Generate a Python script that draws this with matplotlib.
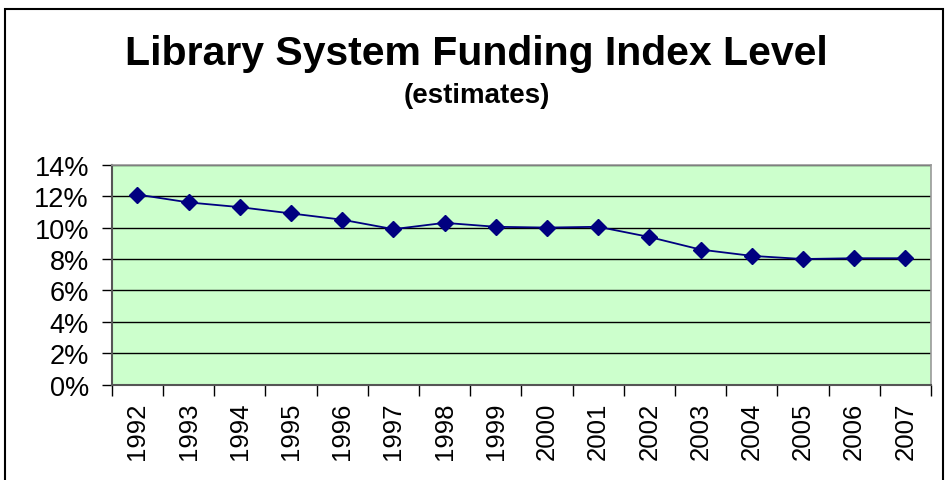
import numpy as np
import matplotlib.pyplot as plt
from matplotlib.patches import Rectangle
from matplotlib.ticker import FuncFormatter, FixedLocator

plt.rcParams['font.family'] = ['Liberation Sans', 'DejaVu Sans']

# Datos
years = ['1992', '1993', '1994', '1995', '1996', '1997', '1998', '1999',
         '2000', '2001', '2002', '2003', '2004', '2005', '2006', '2007']
index_level = [12.1, 11.6, 11.3, 10.9, 10.5, 9.9, 10.3, 10.05,
               10.0, 10.05, 9.4, 8.6, 8.2, 8.0, 8.05, 8.05]
y_ticks = [0, 2, 4, 6, 8, 10, 12, 14]

fig = plt.figure(figsize=(9.48, 4.81), dpi=100)
ax = fig.add_axes([0.118, 0.198, 0.864, 0.4575])

x = np.arange(len(years))
ax.set_facecolor('#ccffcc')
for yv in y_ticks[1:]:
    ax.axhline(yv, color='black', linewidth=1.0, zorder=1)
ax.plot(x, index_level, color='#000080', linewidth=1.3, marker='D',
        markersize=8, markerfacecolor='#000080', markeredgecolor='#000080', zorder=3)

ax.set_xlim(-0.5, len(years) - 0.5)
ax.set_ylim(0, 14)
ax.set_yticks(y_ticks)
ax.yaxis.set_major_formatter(FuncFormatter(lambda v, p: '%d%%' % v))
ax.tick_params(axis='y', labelsize=19.5, length=7.5, width=1, direction='out', pad=9)

# ticks en los limites de categoria (estilo Excel), etiquetas en el centro
ax.xaxis.set_major_locator(FixedLocator(np.arange(-0.5, len(years), 1.0)))
ax.xaxis.set_major_formatter(FuncFormatter(lambda v, p: ''))
ax.xaxis.set_minor_locator(FixedLocator(x))
ax.set_xticklabels(years, minor=True, rotation=90, fontsize=18.5)
ax.tick_params(axis='x', which='major', length=8, width=1, direction='out')
ax.tick_params(axis='x', which='minor', length=0, pad=12)

for side in ['left', 'bottom']:
    ax.spines[side].set_color('#555555')
    ax.spines[side].set_linewidth(1.5)
for side in ['top', 'right']:
    ax.spines[side].set_color('#999999')
    ax.spines[side].set_linewidth(1.2)

fig.text(0.503, 0.865, 'Library System Funding Index Level', ha='center', va='baseline',
         fontsize=29.5, fontweight='bold')
fig.text(0.503, 0.785, '(estimates)', ha='center', va='baseline',
         fontsize=20, fontweight='bold')

# borde exterior del grafico
fig.patches.append(Rectangle((5 / 948, -0.05), 938 / 948, 1.05 - 10 / 481,
                             transform=fig.transFigure, fill=False,
                             edgecolor='black', linewidth=1.5))

fig.savefig('out.png', dpi=100)
